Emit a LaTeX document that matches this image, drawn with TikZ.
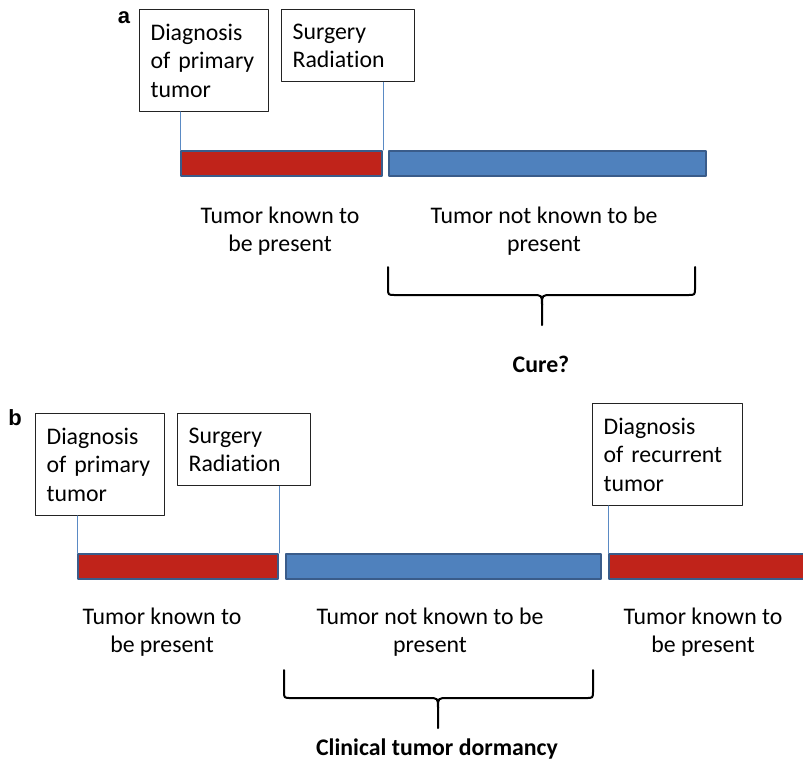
\documentclass[tikz,border=0pt]{standalone}
\usepackage{fontspec}
\setmainfont{Carlito}[Ligatures=NoCommon]
\newfontfamily\panelfont{Liberation Sans}
\usetikzlibrary{positioning}
\definecolor{cbarred}{RGB}{192,35,26}
\definecolor{cbarblue}{RGB}{79,129,189}
\definecolor{cbaredge}{RGB}{58,92,138}
\definecolor{clink}{RGB}{90,138,196}
\definecolor{cboxline}{RGB}{35,35,35}

\begin{document}
\begin{tikzpicture}[line cap=round,line join=round,x=1pt,y=-1pt,
  every node/.style={font=\fontsize{23.8}{28.5}\selectfont},
  evbox/.style={draw=cboxline,line width=1.3pt,anchor=north west,align=left,inner xsep=11pt,inner ysep=14pt},
  bar/.style={draw=cbaredge,line width=2pt,anchor=north west,minimum height=25pt,inner sep=0pt},
  redbar/.style={bar,fill=cbarred},
  bluebar/.style={bar,fill=cbarblue},
  link/.style={draw=clink,line width=0.9pt},
  phase/.style={align=center,inner sep=0pt,anchor=north,font=\fontsize{23.8}{28}\selectfont},
  brace/.style={line width=2pt},
  panel/.style={font=\panelfont\bfseries\fontsize{22}{22}\selectfont,inner sep=0pt,anchor=base}]
\useasboundingbox (0,0) rectangle (803,761);
\clip (0,0) rectangle (803,761);

% panel a
\node[panel] (pa) at (124,23) {a};
\node[evbox,text width=107pt] (diaga) at (139,9) {Diagnosis\\of primary\\tumor};
\node[evbox,text width=111pt] (surga) at (281,9) {Surgery\\Radiation};
\node[redbar,minimum width=201pt] (reda) at (180,150) {};
\node[bluebar,minimum width=317pt] (bluea) at (388,150) {};
\draw[link] (reda.north west) -- (reda.north west |- diaga.south);
\draw[link] (reda.north east) -- (reda.north east |- surga.south);
\node[phase] (knowna) at (280,207) {Tumor known to\\be present};
\node[phase] (unknowna) at (544,207) {Tumor not known to be\\present};
\draw[brace] (388,267) -- (388,288) .. controls (388,295) .. (395,295) -- (532,295)
  .. controls (542,295) .. (542,305) -- (542,325);
\draw[brace] (695,267) -- (695,288) .. controls (695,295) .. (688,295) -- (552,295)
  .. controls (542,295) .. (542,305);
\node[font=\fontsize{23.8}{28}\selectfont\bfseries,anchor=base,inner sep=0pt] (cure) at (541,372) {Cure?};

% panel b
\node[panel] (pb) at (15,425) {b};
\node[evbox,text width=107pt] (diagb) at (35,413) {Diagnosis\\of primary\\tumor};
\node[evbox,text width=111pt] (surgb) at (177,413) {Surgery\\Radiation};
\node[evbox,text width=128pt] (recb) at (592,403) {Diagnosis\\of recurrent\\tumor};
\node[redbar,minimum width=200pt] (redb) at (77,553) {};
\node[bluebar,minimum width=315pt] (blueb) at (285,553) {};
\node[redbar,minimum width=220pt] (redc) at (608,553) {};
\draw[link] (redb.north west) -- (redb.north west |- diagb.south);
\draw[link] (redb.north east) -- (redb.north east |- surgb.south);
\draw[link] (redc.north west) -- (redc.north west |- recb.south);
\node[phase] (knownb) at (162,608) {Tumor known to\\be present};
\node[phase] (unknownb) at (430,608) {Tumor not known to be\\present};
\node[phase] (knownc) at (703,608) {Tumor known to\\be present};
\draw[brace] (284,670) -- (284,691) .. controls (284,698) .. (291,698) -- (428,698)
  .. controls (438,698) .. (438,708) -- (438,728);
\draw[brace] (593,670) -- (593,691) .. controls (593,698) .. (586,698) -- (448,698)
  .. controls (438,698) .. (438,708);
\node[font=\fontsize{23.8}{28}\selectfont\bfseries,anchor=base,inner sep=0pt] (dormancy) at (437,755) {Clinical tumor dormancy};
\end{tikzpicture}
\end{document}
